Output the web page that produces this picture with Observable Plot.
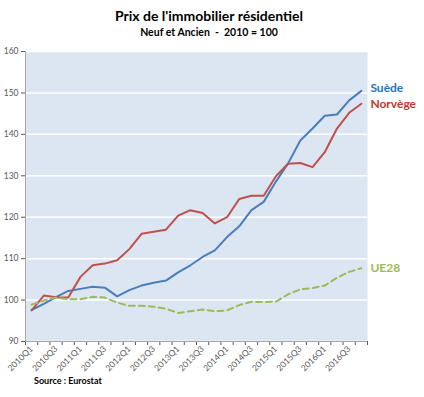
<!DOCTYPE html>
<html>
<head>
<meta charset="utf-8">
<script src="https://cdn.jsdelivr.net/npm/d3@7"></script>
<script src="https://cdn.jsdelivr.net/npm/@observablehq/plot@0.6"></script>
<style>
  body { margin: 0; background: white; font-family: Lato, "Open Sans", sans-serif; }
  #wrap { position: relative; width: 424px; height: 397px; overflow: hidden; }
  #title { position: absolute; top: 7px; left: 0; width: 418px; text-align: center; font-weight: bold; font-size: 14px; color: #000; }
  #subtitle { position: absolute; top: 26px; left: 0; width: 418px; text-align: center; font-weight: bold; font-size: 10.5px; color: #000; }
  #chart { position: absolute; top: 40px; left: 0; width: 424px; }
  #source { position: absolute; top: 375px; left: 34px; font-weight: bold; font-size: 9px; color: #000; }
</style>
</head>
<body>
<div id="wrap">
  <div id="title">Prix de l'immobilier résidentiel</div>
  <div id="subtitle">Neuf et Ancien&nbsp; - &nbsp;2010 = 100</div>
  <div id="chart"></div>
  <div id="source">Source : Eurostat</div>
</div>
<script>
const quarters = ["2010Q1","2010Q2","2010Q3","2010Q4","2011Q1","2011Q2","2011Q3","2011Q4",
  "2012Q1","2012Q2","2012Q3","2012Q4","2013Q1","2013Q2","2013Q3","2013Q4",
  "2014Q1","2014Q2","2014Q3","2014Q4","2015Q1","2015Q2","2015Q3","2015Q4",
  "2016Q1","2016Q2","2016Q3","2016Q4"];
const suede = [97.6, 99.1, 100.7, 102.2, 102.7, 103.2, 103.0, 100.9, 102.4, 103.5, 104.2, 104.7, 106.7, 108.4,
  110.4, 112.0, 115.2, 117.8, 121.7, 123.7, 128.6, 133.0, 138.5, 141.4, 144.5, 144.8, 148.2, 150.5];
const norvege = [97.5, 101.1, 100.7, 100.6, 105.6, 108.4, 108.8, 109.6, 112.3, 116.0, 116.5, 117.0, 120.4, 121.7,
  121.0, 118.5, 120.0, 124.4, 125.2, 125.2, 129.9, 132.9, 133.1, 132.1, 135.7, 141.4, 145.2, 147.4];
const ue28 = [98.9, 99.9, 100.6, 100.2, 100.2, 100.8, 100.6, 99.4, 98.6, 98.6, 98.4, 97.9, 96.9, 97.3,
  97.7, 97.3, 97.5, 98.8, 99.6, 99.5, 99.6, 101.4, 102.6, 102.9, 103.5, 105.4, 106.8, 107.7];
const seriesNames = ["Suède", "Norvège", "UE28"];
const yTicks = [90, 100, 110, 120, 130, 140, 150, 160];

const lineColors = {"Suède": "#4a7ebb", "Norvège": "#c0504d", "UE28": "#9bbb59"};
const labelColors = {"Suède": "#1f74c4", "Norvège": "#c0392b", "UE28": "#9bbb59"};
const values = {"Suède": suede, "Norvège": norvege, "UE28": ue28};

const rows = s => quarters.map((q, i) => ({s, i, q, v: values[s][i]}));
const lastOf = s => [{s, i: quarters.length - 1, v: values[s][quarters.length - 1]}];
const boundaries = d3.range(quarters.length + 1).map(i => i - 0.5);
const labelIdx = d3.range(0, quarters.length, 2);
const axisColor = "#a6a6a6";

const label = (s, dy) => Plot.text(lastOf(s), {x: "i", y: "v", text: "s", fill: labelColors[s],
  textAnchor: "start", dx: 9, dy, fontWeight: "bold", fontSize: 12});

const chart = Plot.plot({
  width: 424,
  height: 357,
  marginTop: 11,
  marginLeft: 25,
  marginRight: 57,
  marginBottom: 56,
  style: {fontFamily: "Lato, 'Open Sans', sans-serif", fontSize: "8.5px", color: "#595959"},
  x: {domain: [-0.5, quarters.length - 0.5]},
  y: {domain: [90, 160]},
  marks: [
    Plot.frame({fill: "#dce6f2", stroke: null}),
    Plot.gridY(yTicks, {stroke: "white", strokeOpacity: 1, strokeWidth: 1.5}),
    Plot.axisY({ticks: yTicks, tickSize: 4, tickPadding: 3, label: null}),
    Plot.axisX({ticks: boundaries, tickSize: 4, tickFormat: () => "", label: null}),
    Plot.axisX({ticks: labelIdx, tickSize: 0, tickPadding: 6, tickRotate: -45, tickFormat: i => quarters[i], label: null}),
    Plot.ruleX([-0.5], {stroke: axisColor}),
    Plot.ruleY([90], {stroke: axisColor}),
    Plot.lineY(rows("Suède"), {x: "i", y: "v", stroke: lineColors["Suède"], strokeWidth: 2}),
    Plot.lineY(rows("Norvège"), {x: "i", y: "v", stroke: lineColors["Norvège"], strokeWidth: 2}),
    Plot.lineY(rows("UE28"), {x: "i", y: "v", stroke: lineColors["UE28"], strokeWidth: 2, strokeDasharray: "6,4"}),
    label("Suède", -3),
    label("Norvège", 0),
    label("UE28", 0)
  ]
});
document.getElementById("chart").appendChild(chart);
</script>
</body>
</html>
